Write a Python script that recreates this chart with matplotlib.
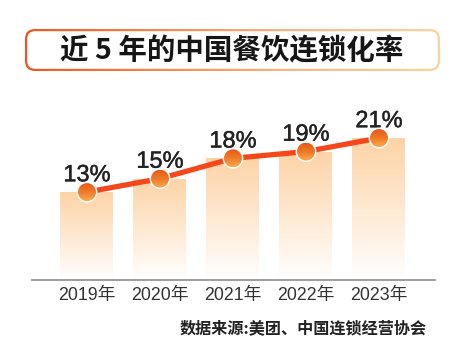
import matplotlib
matplotlib.use("Agg")
import matplotlib.pyplot as plt
import numpy as np
from matplotlib.colors import LinearSegmentedColormap
from matplotlib.patches import FancyBboxPatch, Circle
import matplotlib.patheffects as pe

years = ["2019年", "2020年", "2021年", "2022年", "2023年"]
values = [13, 15, 18, 19, 21]
value_labels = ["13%", "15%", "18%", "19%", "21%"]
title = "近 5 年的中国餐饮连锁化率"
source = "数据来源:美团、中国连锁经营协会"

W, H = 456, 356
fig = plt.figure(figsize=(W / 100, H / 100), dpi=100)
fig.patch.set_facecolor("white")

cjk = ["Noto Sans CJK SC", "DejaVu Sans"]
latin = ["Liberation Sans", "Noto Sans CJK SC", "DejaVu Sans"]

# ---- overlay in pixel coordinates (title box, source) ----
ov = fig.add_axes([0, 0, 1, 1])
ov.set_xlim(0, W)
ov.set_ylim(H, 0)
ov.axis("off")
ov.set_zorder(0)
bx0, bx1, by0, by1 = 25, 440, 29, 71
outer = FancyBboxPatch((bx0, by0), bx1 - bx0, by1 - by0,
                       boxstyle="round,pad=0,rounding_size=10",
                       facecolor="none", edgecolor="none")
ov.add_patch(outer)
edge_cmap = LinearSegmentedColormap.from_list(
    "edge", ["#ee5520", "#f58a50", "#f9b888", "#fdd39c"])
grad = np.linspace(0, 1, 256).reshape(1, -1)
im = ov.imshow(grad, extent=[bx0, bx1, by1, by0], cmap=edge_cmap,
               aspect="auto", zorder=1)
im.set_clip_path(outer)
t = 2.2
inner = FancyBboxPatch((bx0 + t, by0 + t), bx1 - bx0 - 2 * t, by1 - by0 - 2 * t,
                       boxstyle="round,pad=0,rounding_size=8",
                       facecolor="white", edgecolor="none", zorder=2)
ov.add_patch(inner)
ov.text(232, 51, title, ha="center", va="center", fontsize=20.5,
        fontweight="bold", family=cjk, color="#161616", zorder=3)
ov.text(427, 328, source, ha="right", va="center", fontsize=11.6,
        fontweight="bold", family=cjk, color="#222222", zorder=3)
ov.set_xlim(0, W)
ov.set_ylim(H, 0)

# ---- main chart ----
px_per_unit = 6.76
ax_left, ax_right, ax_bottom_px, ax_top_px = 32, 435, 280, 100
ax = fig.add_axes([ax_left / W, (H - ax_bottom_px) / H,
                   (ax_right - ax_left) / W, (ax_bottom_px - ax_top_px) / H])
ax.set_facecolor("none")
ax.set_zorder(1)
x = np.arange(len(values))
spacing = 73.0
bw = 53 / spacing
bars = ax.bar(x, values, width=bw, color="none", edgecolor="none", zorder=1)
bar_cmap = LinearSegmentedColormap.from_list("bar", ["#ffffff", "#fee9d2", "#fdd3a6"])
vgrad = np.linspace(0, 1, 256).reshape(-1, 1)
for b, v in zip(bars, values):
    x0 = b.get_x()
    img = ax.imshow(vgrad, extent=[x0, x0 + bw, 0, v], origin="lower",
                    cmap=bar_cmap, aspect="auto", zorder=1)
    img.set_clip_path(b)

ax.set_xlim(-(87 - ax_left) / spacing, (ax_right - 87) / spacing)
ax.set_ylim(0, (ax_bottom_px - ax_top_px) / px_per_unit)

ax.plot(x, values, color="#f4481c", linewidth=3.8, zorder=3,
        solid_capstyle="round")

# gradient markers: circles centred on the data points (converted to pixels)
mk_cmap = LinearSegmentedColormap.from_list("mk", ["#f9ab4c", "#f07a28", "#e55a18"])
r = 9.0
pts = ax.transData.transform(np.column_stack([x, values]))

mk_ax = fig.add_axes([0, 0, 1, 1])
mk_ax.set_xlim(0, W)
mk_ax.set_ylim(H, 0)
mk_ax.axis("off")
mk_ax.set_zorder(2)
mk_ax.patch.set_visible(False)
for (dx, dy) in pts:
    px, py = dx, H - dy
    ring = Circle((px, py), r + 1.4, facecolor="white", edgecolor="none", zorder=4)
    mk_ax.add_patch(ring)
    circ = Circle((px, py), r, facecolor="none", edgecolor="none")
    mk_ax.add_patch(circ)
    mim = mk_ax.imshow(vgrad, extent=[px - r, px + r, py + r, py - r],
                       origin="lower", cmap=mk_cmap, aspect="auto", zorder=5)
    mim.set_clip_path(circ)
mk_ax.set_xlim(0, W)
mk_ax.set_ylim(H, 0)

for xi, v, lab in zip(x, values, value_labels):
    ax.annotate(lab, (xi, v), xytext=(0, 7.8), textcoords="offset points",
                ha="center", va="baseline", fontsize=17, family=latin,
                color="#222222", zorder=5, annotation_clip=False,
                path_effects=[pe.withStroke(linewidth=0.3, foreground="#222222")])

for s in ["top", "right", "left"]:
    ax.spines[s].set_visible(False)
ax.spines["bottom"].set_color("#8c8c8c")
ax.spines["bottom"].set_linewidth(1.2)
ax.set_yticks([])
ax.set_xticks(x)
ax.set_xticklabels(years, family=latin, fontsize=12.8, color="#333333")
ax.tick_params(axis="x", length=0, pad=5)

fig.savefig("out.png", dpi=100, facecolor="white")
